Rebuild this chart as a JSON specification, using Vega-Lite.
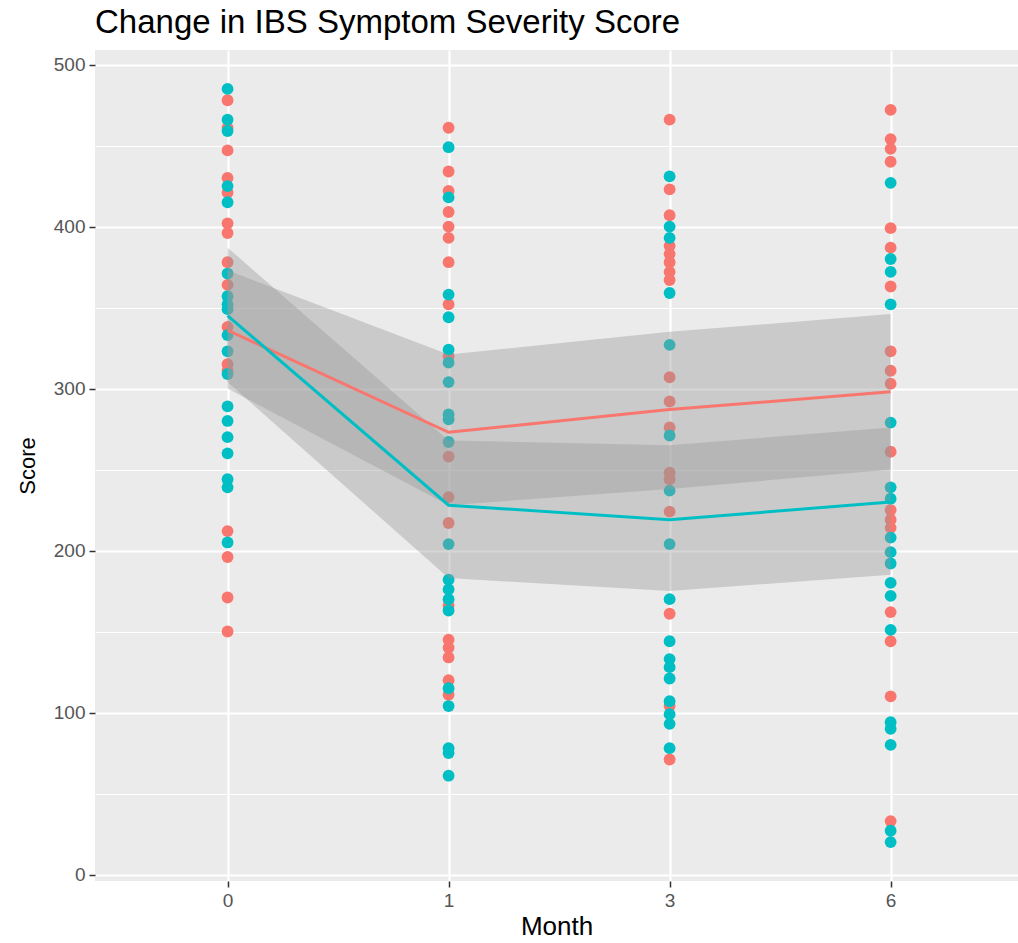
{
  "$schema": "https://vega.github.io/schema/vega-lite/v6.json",
  "width": 923,
  "height": 831,
  "autosize": "none",
  "padding": {"left": 95, "top": 50, "right": 0, "bottom": 62},
  "background": "white",
  "title": {
    "text": "Change in IBS Symptom Severity Score",
    "anchor": "start",
    "frame": "group",
    "font": "Liberation Sans",
    "fontSize": 33,
    "fontWeight": "normal",
    "color": "#000000",
    "baseline": "alphabetic",
    "offset": -16
  },
  "config": {
    "view": {"fill": "#EBEBEB", "stroke": null},
    "axis": {
      "domain": false,
      "gridColor": "#FFFFFF",
      "tickColor": "#333333",
      "tickSize": 6,
      "tickWidth": 1.5,
      "labelColor": "#555555",
      "labelFont": "Liberation Sans",
      "labelFontSize": 19,
      "labelPadding": 4,
      "titleFont": "Liberation Sans",
      "titleFontSize": 22,
      "titleFontWeight": "normal",
      "titleColor": "#000000"
    }
  },
  "datasets": {
    "scores": [
      {"month": "0", "group": "Group 1", "score": 478},
      {"month": "0", "group": "Group 1", "score": 461},
      {"month": "0", "group": "Group 1", "score": 447},
      {"month": "0", "group": "Group 1", "score": 430},
      {"month": "0", "group": "Group 1", "score": 421},
      {"month": "0", "group": "Group 1", "score": 402},
      {"month": "0", "group": "Group 1", "score": 396},
      {"month": "0", "group": "Group 1", "score": 378},
      {"month": "0", "group": "Group 1", "score": 364},
      {"month": "0", "group": "Group 1", "score": 338},
      {"month": "0", "group": "Group 1", "score": 315},
      {"month": "0", "group": "Group 1", "score": 311},
      {"month": "0", "group": "Group 1", "score": 212},
      {"month": "0", "group": "Group 1", "score": 196},
      {"month": "0", "group": "Group 1", "score": 171},
      {"month": "0", "group": "Group 1", "score": 150},
      {"month": "0", "group": "Group 2", "score": 485},
      {"month": "0", "group": "Group 2", "score": 466},
      {"month": "0", "group": "Group 2", "score": 459},
      {"month": "0", "group": "Group 2", "score": 425},
      {"month": "0", "group": "Group 2", "score": 415},
      {"month": "0", "group": "Group 2", "score": 371},
      {"month": "0", "group": "Group 2", "score": 357},
      {"month": "0", "group": "Group 2", "score": 352},
      {"month": "0", "group": "Group 2", "score": 349},
      {"month": "0", "group": "Group 2", "score": 333},
      {"month": "0", "group": "Group 2", "score": 323},
      {"month": "0", "group": "Group 2", "score": 309},
      {"month": "0", "group": "Group 2", "score": 289},
      {"month": "0", "group": "Group 2", "score": 280},
      {"month": "0", "group": "Group 2", "score": 270},
      {"month": "0", "group": "Group 2", "score": 260},
      {"month": "0", "group": "Group 2", "score": 244},
      {"month": "0", "group": "Group 2", "score": 239},
      {"month": "0", "group": "Group 2", "score": 205},
      {"month": "1", "group": "Group 1", "score": 461},
      {"month": "1", "group": "Group 1", "score": 434},
      {"month": "1", "group": "Group 1", "score": 422},
      {"month": "1", "group": "Group 1", "score": 409},
      {"month": "1", "group": "Group 1", "score": 400},
      {"month": "1", "group": "Group 1", "score": 393},
      {"month": "1", "group": "Group 1", "score": 378},
      {"month": "1", "group": "Group 1", "score": 352},
      {"month": "1", "group": "Group 1", "score": 320},
      {"month": "1", "group": "Group 1", "score": 258},
      {"month": "1", "group": "Group 1", "score": 233},
      {"month": "1", "group": "Group 1", "score": 217},
      {"month": "1", "group": "Group 1", "score": 166},
      {"month": "1", "group": "Group 1", "score": 145},
      {"month": "1", "group": "Group 1", "score": 140},
      {"month": "1", "group": "Group 1", "score": 134},
      {"month": "1", "group": "Group 1", "score": 120},
      {"month": "1", "group": "Group 1", "score": 111},
      {"month": "1", "group": "Group 2", "score": 449},
      {"month": "1", "group": "Group 2", "score": 418},
      {"month": "1", "group": "Group 2", "score": 358},
      {"month": "1", "group": "Group 2", "score": 344},
      {"month": "1", "group": "Group 2", "score": 324},
      {"month": "1", "group": "Group 2", "score": 316},
      {"month": "1", "group": "Group 2", "score": 304},
      {"month": "1", "group": "Group 2", "score": 284},
      {"month": "1", "group": "Group 2", "score": 281},
      {"month": "1", "group": "Group 2", "score": 267},
      {"month": "1", "group": "Group 2", "score": 204},
      {"month": "1", "group": "Group 2", "score": 182},
      {"month": "1", "group": "Group 2", "score": 176},
      {"month": "1", "group": "Group 2", "score": 170},
      {"month": "1", "group": "Group 2", "score": 163},
      {"month": "1", "group": "Group 2", "score": 115},
      {"month": "1", "group": "Group 2", "score": 104},
      {"month": "1", "group": "Group 2", "score": 78},
      {"month": "1", "group": "Group 2", "score": 75},
      {"month": "1", "group": "Group 2", "score": 61},
      {"month": "3", "group": "Group 1", "score": 466},
      {"month": "3", "group": "Group 1", "score": 423},
      {"month": "3", "group": "Group 1", "score": 407},
      {"month": "3", "group": "Group 1", "score": 388},
      {"month": "3", "group": "Group 1", "score": 383},
      {"month": "3", "group": "Group 1", "score": 378},
      {"month": "3", "group": "Group 1", "score": 372},
      {"month": "3", "group": "Group 1", "score": 367},
      {"month": "3", "group": "Group 1", "score": 307},
      {"month": "3", "group": "Group 1", "score": 292},
      {"month": "3", "group": "Group 1", "score": 276},
      {"month": "3", "group": "Group 1", "score": 248},
      {"month": "3", "group": "Group 1", "score": 244},
      {"month": "3", "group": "Group 1", "score": 224},
      {"month": "3", "group": "Group 1", "score": 161},
      {"month": "3", "group": "Group 1", "score": 104},
      {"month": "3", "group": "Group 1", "score": 71},
      {"month": "3", "group": "Group 2", "score": 431},
      {"month": "3", "group": "Group 2", "score": 400},
      {"month": "3", "group": "Group 2", "score": 393},
      {"month": "3", "group": "Group 2", "score": 359},
      {"month": "3", "group": "Group 2", "score": 327},
      {"month": "3", "group": "Group 2", "score": 271},
      {"month": "3", "group": "Group 2", "score": 237},
      {"month": "3", "group": "Group 2", "score": 204},
      {"month": "3", "group": "Group 2", "score": 170},
      {"month": "3", "group": "Group 2", "score": 144},
      {"month": "3", "group": "Group 2", "score": 133},
      {"month": "3", "group": "Group 2", "score": 128},
      {"month": "3", "group": "Group 2", "score": 121},
      {"month": "3", "group": "Group 2", "score": 107},
      {"month": "3", "group": "Group 2", "score": 99},
      {"month": "3", "group": "Group 2", "score": 93},
      {"month": "3", "group": "Group 2", "score": 78},
      {"month": "6", "group": "Group 1", "score": 472},
      {"month": "6", "group": "Group 1", "score": 454},
      {"month": "6", "group": "Group 1", "score": 448},
      {"month": "6", "group": "Group 1", "score": 440},
      {"month": "6", "group": "Group 1", "score": 399},
      {"month": "6", "group": "Group 1", "score": 387},
      {"month": "6", "group": "Group 1", "score": 363},
      {"month": "6", "group": "Group 1", "score": 323},
      {"month": "6", "group": "Group 1", "score": 311},
      {"month": "6", "group": "Group 1", "score": 303},
      {"month": "6", "group": "Group 1", "score": 261},
      {"month": "6", "group": "Group 1", "score": 225},
      {"month": "6", "group": "Group 1", "score": 219},
      {"month": "6", "group": "Group 1", "score": 214},
      {"month": "6", "group": "Group 1", "score": 162},
      {"month": "6", "group": "Group 1", "score": 144},
      {"month": "6", "group": "Group 1", "score": 110},
      {"month": "6", "group": "Group 1", "score": 33},
      {"month": "6", "group": "Group 2", "score": 427},
      {"month": "6", "group": "Group 2", "score": 380},
      {"month": "6", "group": "Group 2", "score": 372},
      {"month": "6", "group": "Group 2", "score": 352},
      {"month": "6", "group": "Group 2", "score": 279},
      {"month": "6", "group": "Group 2", "score": 239},
      {"month": "6", "group": "Group 2", "score": 232},
      {"month": "6", "group": "Group 2", "score": 208},
      {"month": "6", "group": "Group 2", "score": 199},
      {"month": "6", "group": "Group 2", "score": 192},
      {"month": "6", "group": "Group 2", "score": 180},
      {"month": "6", "group": "Group 2", "score": 172},
      {"month": "6", "group": "Group 2", "score": 151},
      {"month": "6", "group": "Group 2", "score": 94},
      {"month": "6", "group": "Group 2", "score": 90},
      {"month": "6", "group": "Group 2", "score": 80},
      {"month": "6", "group": "Group 2", "score": 27},
      {"month": "6", "group": "Group 2", "score": 20}
    ],
    "fits": [
      {"month": "0", "group": "Group 1", "mean": 336, "lower": 300, "upper": 373},
      {"month": "1", "group": "Group 1", "mean": 273, "lower": 228, "upper": 321},
      {"month": "3", "group": "Group 1", "mean": 287, "lower": 238, "upper": 335},
      {"month": "6", "group": "Group 1", "mean": 298, "lower": 250, "upper": 346},
      {"month": "0", "group": "Group 2", "mean": 345, "lower": 304, "upper": 387},
      {"month": "1", "group": "Group 2", "mean": 228, "lower": 183, "upper": 268},
      {"month": "3", "group": "Group 2", "mean": 219, "lower": 175, "upper": 265},
      {"month": "6", "group": "Group 2", "mean": 230, "lower": 185, "upper": 276}
    ]
  },
  "encoding": {
    "x": {
      "field": "month",
      "type": "ordinal",
      "title": "Month",
      "scale": {"type": "point", "padding": 0.588, "align": 0.51},
      "axis": {"labelAngle": 0, "grid": true, "gridWidth": 2.2, "titlePadding": 3, "titleFontSize": 26}
    }
  },
  "layer": [
    {
      "data": {"name": "scores"},
      "mark": {"type": "point", "filled": true, "opacity": 1, "size": 140, "shape": "circle"},
      "encoding": {
        "y": {
          "field": "score",
          "type": "quantitative",
          "title": "Score",
          "scale": {"domain": [-4, 509], "nice": false, "zero": false},
          "axis": {"values": [0, 100, 200, 300, 400, 500], "grid": true, "gridWidth": 2.2, "titlePadding": 14}
        },
        "color": {
          "field": "group",
          "type": "nominal",
          "scale": {"domain": ["Group 1", "Group 2"], "range": ["#F8766D", "#00BFC4"]},
          "legend": null
        }
      }
    },
    {
      "data": {"name": "fits"},
      "mark": {"type": "area", "color": "#999999", "opacity": 0.4},
      "encoding": {
        "y": {
          "field": "lower",
          "type": "quantitative",
          "axis": {"orient": "left", "values": [50, 150, 250, 350, 450], "grid": true, "gridWidth": 1.1, "labels": false, "ticks": false, "domain": false, "title": null}
        },
        "y2": {"field": "upper"},
        "detail": {"field": "group", "type": "nominal"}
      }
    },
    {
      "data": {"name": "fits"},
      "mark": {"type": "line", "strokeWidth": 3},
      "encoding": {
        "y": {"field": "mean", "type": "quantitative", "axis": null},
        "color": {"field": "group", "type": "nominal", "legend": null}
      }
    }
  ],
  "resolve": {"axis": {"y": "independent"}}
}
